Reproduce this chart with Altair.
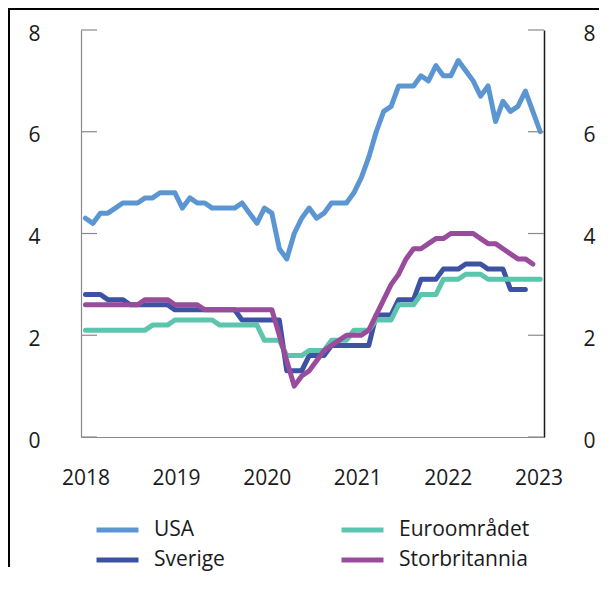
import altair as alt
import pandas as pd

# ---- data (monthly, index 0 = first month of 2018) ----
legend_order = ["USA", "Sverige", "Euroområdet", "Storbritannia"]
draw_order = ["USA", "Sverige", "Euroområdet", "Storbritannia"]
palette = {"USA": "#5b96d3", "Sverige": "#3d52a3",
           "Euroområdet": "#5cc5ad", "Storbritannia": "#994b9c"}

usa = [4.3, 4.2, 4.4, 4.4, 4.5, 4.6, 4.6, 4.6, 4.7, 4.7, 4.8, 4.8,
       4.8, 4.5, 4.7, 4.6, 4.6, 4.5, 4.5, 4.5, 4.5, 4.6, 4.4, 4.2,
       4.5, 4.4, 3.7, 3.5, 4.0, 4.3, 4.5, 4.3, 4.4, 4.6, 4.6, 4.6,
       4.8, 5.1, 5.5, 6.0, 6.4, 6.5, 6.9, 6.9, 6.9, 7.1, 7.0, 7.3,
       7.1, 7.1, 7.4, 7.2, 7.0, 6.7, 6.9, 6.2, 6.6, 6.4, 6.5, 6.8,
       6.4, 6.0]

sverige = [2.8, 2.8, 2.8, 2.7, 2.7, 2.7, 2.6, 2.6, 2.6, 2.6, 2.6, 2.6,
           2.5, 2.5, 2.5, 2.5, 2.5, 2.5, 2.5, 2.5, 2.5, 2.3, 2.3, 2.3,
           2.3, 2.3, 2.3, 1.3, 1.3, 1.3, 1.6, 1.6, 1.6, 1.8, 1.8, 1.8,
           1.8, 1.8, 1.8, 2.4, 2.4, 2.4, 2.7, 2.7, 2.7, 3.1, 3.1, 3.1,
           3.3, 3.3, 3.3, 3.4, 3.4, 3.4, 3.3, 3.3, 3.3, 2.9, 2.9, 2.9]

euro = [2.1, 2.1, 2.1, 2.1, 2.1, 2.1, 2.1, 2.1, 2.1, 2.2, 2.2, 2.2,
        2.3, 2.3, 2.3, 2.3, 2.3, 2.3, 2.2, 2.2, 2.2, 2.2, 2.2, 2.2,
        1.9, 1.9, 1.9, 1.6, 1.6, 1.6, 1.7, 1.7, 1.7, 1.9, 1.9, 1.9,
        2.1, 2.1, 2.1, 2.3, 2.3, 2.3, 2.6, 2.6, 2.6, 2.8, 2.8, 2.8,
        3.1, 3.1, 3.1, 3.2, 3.2, 3.2, 3.1, 3.1, 3.1, 3.1, 3.1, 3.1,
        3.1, 3.1]

uk = [2.6, 2.6, 2.6, 2.6, 2.6, 2.6, 2.6, 2.6, 2.7, 2.7, 2.7, 2.7,
      2.6, 2.6, 2.6, 2.6, 2.5, 2.5, 2.5, 2.5, 2.5, 2.5, 2.5, 2.5,
      2.5, 2.5, 2.0, 1.5, 1.0, 1.2, 1.3, 1.5, 1.7, 1.8, 1.9, 2.0,
      2.0, 2.0, 2.1, 2.4, 2.7, 3.0, 3.2, 3.5, 3.7, 3.7, 3.8, 3.9,
      3.9, 4.0, 4.0, 4.0, 4.0, 3.9, 3.8, 3.8, 3.7, 3.6, 3.5, 3.5,
      3.4]

years = ["2018", "2019", "2020", "2021", "2022", "2023"]
y_ticks = [0, 2, 4, 6, 8]

series = {"USA": usa, "Sverige": sverige, "Euroområdet": euro, "Storbritannia": uk}
rows = []
for name in draw_order:
    for i, v in enumerate(series[name]):
        rows.append({"i": i, "series": name, "value": v})
df = pd.DataFrame(rows)
tick_df = pd.DataFrame({"t": y_ticks})

# ---- layout ----
W, H = 463, 407
PAD = {"left": 73, "top": 22, "right": 60, "bottom": 140}
FONT = "Open Sans"
FS = 21
GRAY = "#8a8a8a"

year_step = 12.15
year_pos = [k * year_step for k in range(len(years))]
label_expr = "[" + ",".join("'%s'" % y for y in years) + "][round(datum.value/%s)]" % year_step

xscale = alt.Scale(domain=[-0.6, 61.5], nice=False, zero=False)
yscale = alt.Scale(domain=[0, 8], nice=False, zero=False)

lines = alt.Chart(df).mark_line(strokeWidth=5, strokeCap="round", strokeJoin="round").encode(
    x=alt.X("i:Q", scale=xscale,
            axis=alt.Axis(values=year_pos, labelExpr=label_expr, ticks=False, tickSize=0,
                          grid=False, title=None, domainColor=GRAY, domainWidth=1.2,
                          labelPadding=30, labelFontSize=FS, labelFont=FONT,
                          labelColor="#1a1a1a")),
    y=alt.Y("value:Q", scale=yscale,
            axis=alt.Axis(orient="left", values=y_ticks, ticks=False, tickSize=0, grid=False,
                          title=None, domainColor=GRAY, domainWidth=1.2, labelPadding=41,
                          labelFontSize=FS, labelFont=FONT, labelColor="#1a1a1a",
                          labelOffset=4)),
    color=alt.Color("series:N",
                    scale=alt.Scale(domain=legend_order,
                                    range=[palette[n] for n in legend_order]),
                    legend=alt.Legend(title=None, orient="none", legendX=13, legendY=489,
                                      columns=2, symbolType="stroke", symbolSize=1764,
                                      symbolStrokeWidth=5, clipHeight=22, rowPadding=8,
                                      columnPadding=114, labelOffset=13, labelFontSize=FS,
                                      labelFont=FONT, labelColor="#1a1a1a", padding=0)),
    detail="series:N",
)

left_ticks = alt.Chart(tick_df).mark_rule(color=GRAY, strokeWidth=1.2).encode(
    y=alt.Y("t:Q", scale=yscale, axis=None),
    x=alt.value(0), x2=alt.value(16),
)

right_ticks = alt.Chart(tick_df).mark_rule(color=GRAY, strokeWidth=1.2).encode(
    y=alt.Y("t:Q", scale=yscale,
            axis=alt.Axis(orient="right", values=y_ticks, ticks=False, tickSize=0, grid=False,
                          title=None, domainColor="#1a1a1a", domainWidth=1.5, labelPadding=39,
                          labelFontSize=FS, labelFont=FONT, labelColor="#1a1a1a",
                          labelOffset=4)),
    x=alt.value(W - 16), x2=alt.value(W),
)

# outer figure frame: top and left edges only
frame_df = pd.DataFrame({"a": [0]})
frame_left = alt.Chart(frame_df).mark_rule(color="black", strokeWidth=2).encode(
    x=alt.value(-72), y=alt.value(-22), y2=alt.value(H + 130))
frame_top = alt.Chart(frame_df).mark_rule(color="black", strokeWidth=2).encode(
    x=alt.value(-73), x2=alt.value(W + 55), y=alt.value(-21))

chart = alt.layer(left_ticks, lines, right_ticks, frame_left, frame_top).resolve_scale(
    y="independent"
).properties(
    width=W, height=H, padding=PAD,
    autosize=alt.AutoSizeParams(type="none"),
    background="white",
).configure_view(stroke=None)

chart.save("out.html", embed_options={"renderer": "svg", "actions": False})
